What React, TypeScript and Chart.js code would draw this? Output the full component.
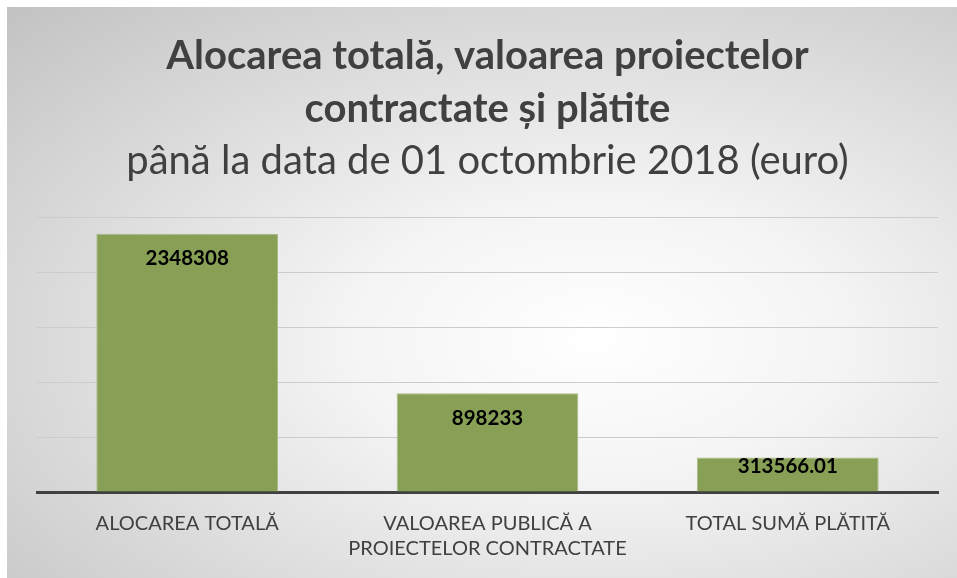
import React, { useEffect, useRef } from "react";
import { Chart, registerables } from "chart.js";

Chart.register(...registerables);

const categories: (string | string[])[] = [
  "ALOCAREA TOTALĂ",
  ["VALOAREA PUBLICĂ A", "PROIECTELOR CONTRACTATE"],
  "TOTAL SUMĂ PLĂTITĂ",
];
const values: number[] = [2348308, 898233, 313566.01];
const valueLabels: string[] = ["2348308", "898233", "313566.01"];
const titleLines: string[] = ["Alocarea totală, valoarea proiectelor", "contractate și plătite"];
const subtitleText = "până la data de 01 octombrie 2018 (euro)";
const yMax = 2500000;
const yStep = 500000;

const FONT = "Lato, 'Open Sans', sans-serif";

const labelPlugin = {
  id: "barLabels",
  afterDatasetsDraw(chart: any) {
    const ctx = chart.ctx;
    const meta = chart.getDatasetMeta(0);
    ctx.save();
    ctx.font = `bold 20.5px ${FONT}`;
    ctx.fillStyle = "#000000";
    ctx.textAlign = "center";
    ctx.textBaseline = "middle";
    meta.data.forEach((bar: any, i: number) => {
      const y = Math.min(bar.y + 25, bar.base - 25);
      ctx.fillText(valueLabels[i], bar.x, y);
    });
    ctx.restore();
  },
};

export default function App() {
  const ref = useRef<HTMLCanvasElement>(null);
  useEffect(() => {
    if (!ref.current) return;
    const chart = new Chart(ref.current, {
      type: "bar",
      data: {
        labels: categories,
        datasets: [
          {
            data: values,
            backgroundColor: "#87a055",
            borderColor: "#a8bc84",
            borderWidth: 1,
            categoryPercentage: 0.605,
            barPercentage: 1,
          },
        ],
      },
      options: {
        animation: false,
        responsive: false,
        layout: { padding: { left: 30, right: 19, top: 0, bottom: 0 } },
        plugins: {
          legend: { display: false },
          tooltip: { enabled: false },
          title: {
            display: true,
            text: titleLines,
            color: "#404040",
            font: { family: FONT, size: 40, weight: "bold", lineHeight: 1.325 },
            padding: { top: 23, bottom: 1 },
          },
          subtitle: {
            display: true,
            text: subtitleText,
            color: "#404040",
            font: { family: FONT, size: 40, weight: "normal", lineHeight: 1.2 },
            padding: { top: 0, bottom: 32 },
          },
        },
        scales: {
          x: {
            grid: { display: false, drawTicks: false },
            border: { display: true, color: "#404040", width: 3 },
            ticks: {
              color: "#404040",
              font: { family: FONT, size: 20, lineHeight: 1.25 },
              padding: 19,
              maxRotation: 0,
              autoSkip: false,
            },
            afterFit: (scale: any) => {
              scale.height = 86;
            },
          },
          y: {
            min: 0,
            max: yMax,
            ticks: { display: false, stepSize: yStep },
            grid: { color: "#cccccc", lineWidth: 1, drawTicks: false },
            border: { display: false },
          },
        },
      },
      plugins: [labelPlugin],
    });
    return () => chart.destroy();
  }, []);
  return (
    <div
      style={{
        position: "fixed",
        left: 7,
        top: 7,
        width: 950,
        height: 571,
        background:
          "radial-gradient(ellipse farthest-corner at 62% 58%, #ffffff 0%, #f4f4f4 30%, #c2c2c2 100%)",
      }}
    >
      <canvas ref={ref} width={950} height={571} style={{ display: "block" }} />
    </div>
  );
}
